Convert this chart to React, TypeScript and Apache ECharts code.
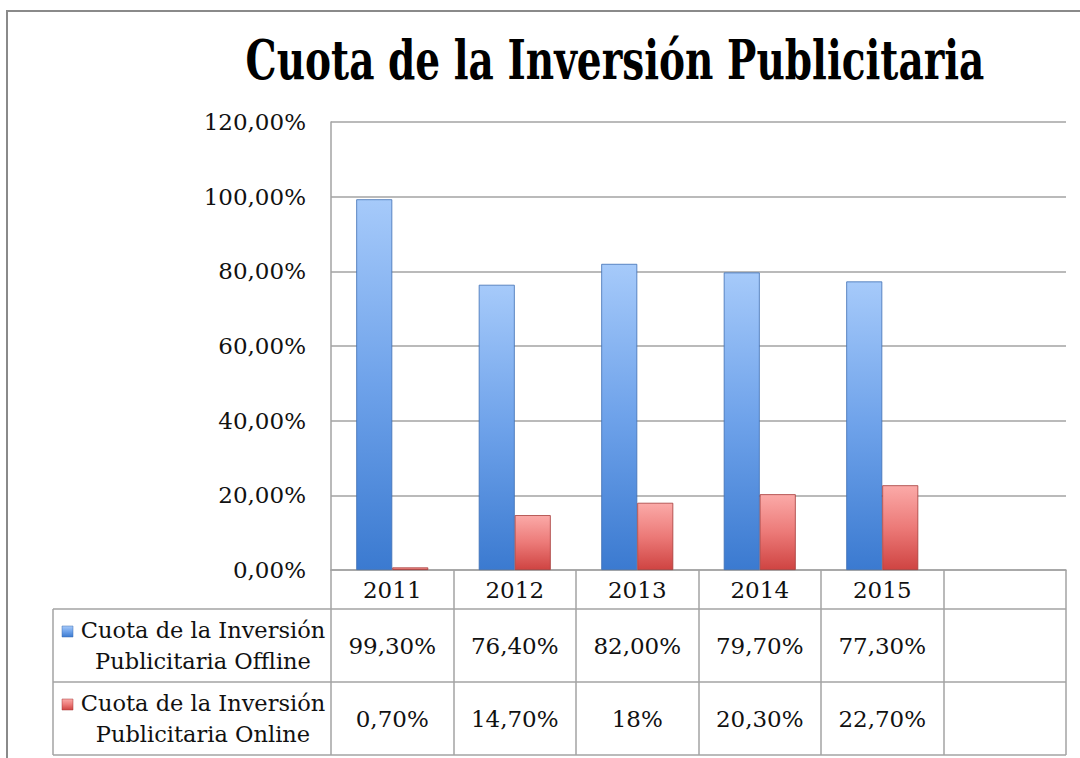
import React, { useEffect, useRef } from "react";
import * as echarts from "echarts";

const title = "Cuota de la Inversión Publicitaria";
const categories = ["2011", "2012", "2013", "2014", "2015", ""];
const offlineValues = [99.3, 76.4, 82.0, 79.7, 77.3];
const onlineValues = [0.7, 14.7, 18, 20.3, 22.7];
const offlineLabels = ["99,30%", "76,40%", "82,00%", "79,70%", "77,30%", ""];
const onlineLabels = ["0,70%", "14,70%", "18%", "20,30%", "22,70%", ""];
const seriesNames = [
  "Cuota de la Inversión\nPublicitaria Offline",
  "Cuota de la Inversión\nPublicitaria Online",
];
const yMin = 0;
const yMax = 120;
const yInterval = 20;

const FONT = "'DejaVu Serif', 'Liberation Serif', serif";
const GRID_LEFT = 331;
const GRID_RIGHT_X = 1066;
const GRID_TOP = 122;
const GRID_BOTTOM_Y = 570;
const LINE = "#a3a3a3";

const blueGrad = () =>
  new echarts.graphic.LinearGradient(0, 0, 0, 1, [
    { offset: 0, color: "#a6cafa" },
    { offset: 0.5, color: "#6ea2ea" },
    { offset: 1, color: "#3b7ad0" },
  ]);
const redGrad = () =>
  new echarts.graphic.LinearGradient(0, 0, 0, 1, [
    { offset: 0, color: "#fbaaa8" },
    { offset: 0.5, color: "#ec7a78" },
    { offset: 1, color: "#cf4442" },
  ]);

export default function App() {
  const ref = useRef<HTMLDivElement>(null);
  useEffect(() => {
    if (!ref.current) return;
    const chart = echarts.init(ref.current, undefined, { renderer: "svg" });
    const rowTop1 = 609;
    const rowTop2 = 682;
    const rowBottom = 755;
    const labelStyle = { fontFamily: FONT, fontSize: 23, color: "#111" };
    const option: any = {
      animation: false,
      backgroundColor: "#ffffff",
      textStyle: { fontFamily: FONT },
      grid: {
        left: GRID_LEFT,
        right: 1080 - GRID_RIGHT_X,
        top: GRID_TOP,
        bottom: 758 - GRID_BOTTOM_Y,
        containLabel: false,
      },
      yAxis: {
        type: "value",
        min: yMin,
        max: yMax,
        interval: yInterval,
        axisLine: { show: true, lineStyle: { color: LINE, width: 1.5 } },
        axisTick: { show: false },
        splitLine: { show: true, lineStyle: { color: LINE, width: 1.5 } },
        axisLabel: {
          margin: 25,
          ...labelStyle,
          formatter: (v: number) => v.toFixed(2).replace(".", ",") + "%",
        },
      },
      xAxis: [
        {
          type: "category",
          data: categories,
          position: "bottom",
          axisLine: { show: true, lineStyle: { color: LINE, width: 1.5 } },
          axisTick: {
            show: true,
            interval: 0,
            length: rowBottom - GRID_BOTTOM_Y,
            lineStyle: { color: LINE, width: 1.5 },
          },
          axisLabel: {
            interval: 0,
            margin: 20,
            verticalAlign: "middle",
            ...labelStyle,
          },
        },
        {
          type: "category",
          data: offlineLabels,
          position: "bottom",
          axisLine: { show: false },
          axisTick: { show: false },
          axisLabel: {
            interval: 0,
            margin: (rowTop1 + rowTop2) / 2 - GRID_BOTTOM_Y,
            verticalAlign: "middle",
            ...labelStyle,
          },
        },
        {
          type: "category",
          data: onlineLabels,
          position: "bottom",
          axisLine: { show: false },
          axisTick: { show: false },
          axisLabel: {
            interval: 0,
            margin: (rowTop2 + rowBottom) / 2 - GRID_BOTTOM_Y,
            verticalAlign: "middle",
            ...labelStyle,
          },
        },
      ],
      series: [
        {
          type: "bar",
          name: seriesNames[0],
          xAxisIndex: 0,
          data: offlineValues,
          barWidth: 36,
          barGap: "0%",
          itemStyle: { color: blueGrad(), borderColor: "#3d6fb3", borderWidth: 0.8 },
        },
        {
          type: "bar",
          name: seriesNames[1],
          xAxisIndex: 0,
          data: onlineValues,
          barWidth: 36,
          barGap: "0%",
          itemStyle: { color: redGrad(), borderColor: "#a53b39", borderWidth: 0.8 },
        },
      ],
      graphic: [
        {
          type: "rect",
          shape: { x: 7, y: 11, width: 1200, height: 900 },
          style: { fill: "none", stroke: "#8a8a8a", lineWidth: 2 },
          silent: true,
        },
        {
          type: "text",
          x: 615,
          y: 59,
          scaleX: 0.71,
          style: {
            text: title,
            fontFamily: "'DejaVu Serif', serif",
            fontWeight: "bold",
            fontSize: 55,
            fill: "#000",
            textAlign: "center",
            textVerticalAlign: "middle",
          },
        },
        // table borders
        {
          type: "line",
          shape: { x1: 53, y1: rowTop1, x2: GRID_RIGHT_X, y2: rowTop1 },
          style: { stroke: LINE, lineWidth: 1.5 },
        },
        {
          type: "line",
          shape: { x1: 53, y1: rowTop2, x2: GRID_RIGHT_X, y2: rowTop2 },
          style: { stroke: LINE, lineWidth: 1.5 },
        },
        {
          type: "line",
          shape: { x1: 53, y1: rowBottom, x2: GRID_RIGHT_X, y2: rowBottom },
          style: { stroke: LINE, lineWidth: 1.5 },
        },
        {
          type: "line",
          shape: { x1: 53, y1: rowTop1, x2: 53, y2: rowBottom },
          style: { stroke: LINE, lineWidth: 1.5 },
        },
        // legend keys
        {
          type: "rect",
          shape: { x: 62, y: 626, width: 11, height: 11 },
          style: { fill: blueGrad(), stroke: "#3d6fb3", lineWidth: 0.5 },
        },
        {
          type: "rect",
          shape: { x: 62, y: 699, width: 11, height: 11 },
          style: { fill: redGrad(), stroke: "#a53b39", lineWidth: 0.5 },
        },
        {
          type: "text",
          x: 203,
          y: (rowTop1 + rowTop2) / 2,
          style: {
            text: seriesNames[0],
            fontFamily: FONT,
            fontSize: 22.5,
            lineHeight: 31,
            fill: "#111",
            textAlign: "center",
            textVerticalAlign: "middle",
          },
        },
        {
          type: "text",
          x: 203,
          y: (rowTop2 + rowBottom) / 2,
          style: {
            text: seriesNames[1],
            fontFamily: FONT,
            fontSize: 22.5,
            lineHeight: 31,
            fill: "#111",
            textAlign: "center",
            textVerticalAlign: "middle",
          },
        },
      ],
    };
    chart.setOption(option);
    return () => chart.dispose();
  }, []);
  return (
    <div
      ref={ref}
      style={{ position: "absolute", left: 0, top: 0, width: 1080, height: 758 }}
    />
  );
}
